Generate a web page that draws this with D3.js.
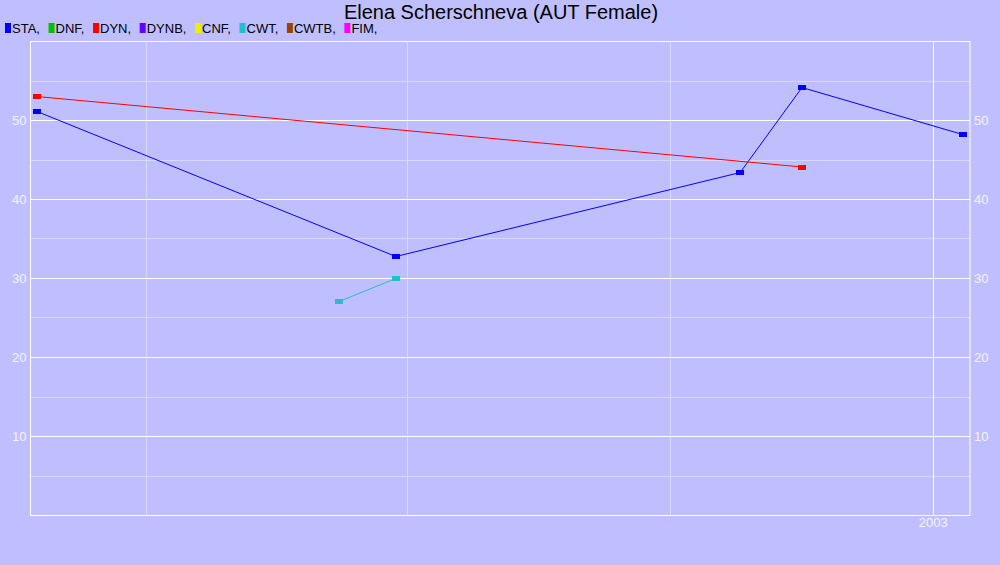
<!DOCTYPE html>
<html><head><meta charset="utf-8">
<script src="https://cdn.jsdelivr.net/npm/d3@7"></script>
<style>body{margin:0;background:#bfbfff;}svg{display:block;}text{font-family:"Liberation Sans",Arial,sans-serif;}</style>
</head><body><svg id="c" width="1000" height="565"></svg>
<script>
const title = "Elena Scherschneva (AUT Female)";
const legendNames = ["STA","DNF","DYN","DYNB","CNF","CWT","CWTB","FIM"];
const legendColors = ["#0000ff","#00c000","#ff0000","#6600ff","#eeee00","#20c0d0","#994400","#ff00ff"];
const staDates = ["2002-02-21T18:00","2002-06-27T06:00","2002-10-25T15:00","2002-11-16T06:00","2003-01-11T12:00"];
const staValues = [51.08,32.72,43.35,54.11,48.16];
const dynDates = ["2002-02-21T18:00","2002-11-16T06:00"];
const dynValues = [52.97,44.05];
const cwtDates = ["2002-06-07T10:00","2002-06-27T06:00"];
const cwtValues = [27.03,29.94];
const yTicks = [10,20,30,40,50];
const yMinor = [5,15,25,35,45,55];
const xQuarterLines = ["2002-04-01","2002-07-01","2002-10-01"];
const xYearTicks = ["2003-01-01"];
const xDomain = ["2002-02-19T12:00","2003-01-14"];
const yDomain = [0,60];

const parse = s => new Date(s);
const svg = d3.select("#c");
const L=30.5, R=970, T=41, B=515;
const x = d3.scaleTime().domain(xDomain.map(parse)).range([L,R]);
const y = d3.scaleLinear().domain(yDomain).range([B,T]);

svg.append("rect").attr("width",1000).attr("height",565).attr("fill","#bfbfff");

// minor horizontal grid
svg.append("g").selectAll("line").data(yMinor).join("line")
  .attr("x1",L).attr("x2",R).attr("y1",d=>Math.round(y(d))+0.5).attr("y2",d=>Math.round(y(d))+0.5)
  .attr("stroke","#d8d8ff").attr("stroke-width",1);
// quarter vertical lines
svg.append("g").selectAll("line").data(xQuarterLines.map(parse)).join("line")
  .attr("y1",T).attr("y2",B).attr("x1",d=>Math.round(x(d))+0.5).attr("x2",d=>Math.round(x(d))+0.5)
  .attr("stroke","#dadaff").attr("stroke-width",1);
// major horizontal grid
svg.append("g").selectAll("line").data(yTicks).join("line")
  .attr("x1",L).attr("x2",R).attr("y1",d=>Math.round(y(d))+0.5).attr("y2",d=>Math.round(y(d))+0.5)
  .attr("stroke","#ffffff").attr("stroke-width",1);
// year vertical lines
svg.append("g").selectAll("line").data(xYearTicks.map(parse)).join("line")
  .attr("y1",T).attr("y2",B).attr("x1",d=>Math.round(x(d))+0.5).attr("x2",d=>Math.round(x(d))+0.5)
  .attr("stroke","#ffffff").attr("stroke-width",1);
// frame
svg.append("rect").attr("x",L).attr("y",T+0.5).attr("width",R-L).attr("height",B-T)
  .attr("fill","none").attr("stroke","#ffffff").attr("stroke-width",1);

// y axis labels via d3 axes
const yl = svg.append("g").attr("transform",`translate(${L},0)`).call(d3.axisLeft(y).tickValues(yTicks).tickSize(0).tickPadding(4));
const yr = svg.append("g").attr("transform",`translate(${R},0)`).call(d3.axisRight(y).tickValues(yTicks).tickSize(0).tickPadding(4));
const xa = svg.append("g").attr("transform",`translate(0,${B})`).call(d3.axisBottom(x).tickValues(xYearTicks.map(parse)).tickFormat(d3.timeFormat("%Y")).tickSize(0).tickPadding(3));
[yl,yr,xa].forEach(g=>{
  g.select(".domain").remove();
  g.selectAll("text").attr("fill","#f4f4ff").style("font-size","13px").style("font-family","'Liberation Sans',Arial,sans-serif");
});

// series
const series = [
  {dates:staDates, vals:staValues, color:legendColors[0]},
  {dates:dynDates, vals:dynValues, color:legendColors[2]},
  {dates:cwtDates, vals:cwtValues, color:legendColors[5]},
];
const line = d3.line().x(d=>x(d[0])).y(d=>y(d[1]));
series.forEach(s=>{
  const pts = s.dates.map((d,i)=>[parse(d), s.vals[i]]);
  svg.append("path").datum(pts).attr("d",line).attr("fill","none").attr("stroke",s.color).attr("stroke-width",1);
  svg.append("g").selectAll("rect").data(pts).join("rect")
    .attr("x",d=>Math.round(x(d[0])-4)).attr("y",d=>Math.round(y(d[1])-2.5))
    .attr("width",8).attr("height",5).attr("fill",s.color);
});

// title
svg.append("text").attr("x",501).attr("y",19).attr("text-anchor","middle")
  .style("font-size","20px").attr("fill","#000").text(title);

// legend
let lx = 5;
legendNames.forEach((n,i)=>{
  svg.append("rect").attr("x",lx).attr("y",23).attr("width",6).attr("height",10).attr("fill",legendColors[i]);
  const t = svg.append("text").attr("x",lx+7).attr("y",33).style("font-size","13px").attr("fill","#000").text(n+",");
  lx = lx + 7 + t.node().getComputedTextLength() + 8.6;
});
</script></body></html>
